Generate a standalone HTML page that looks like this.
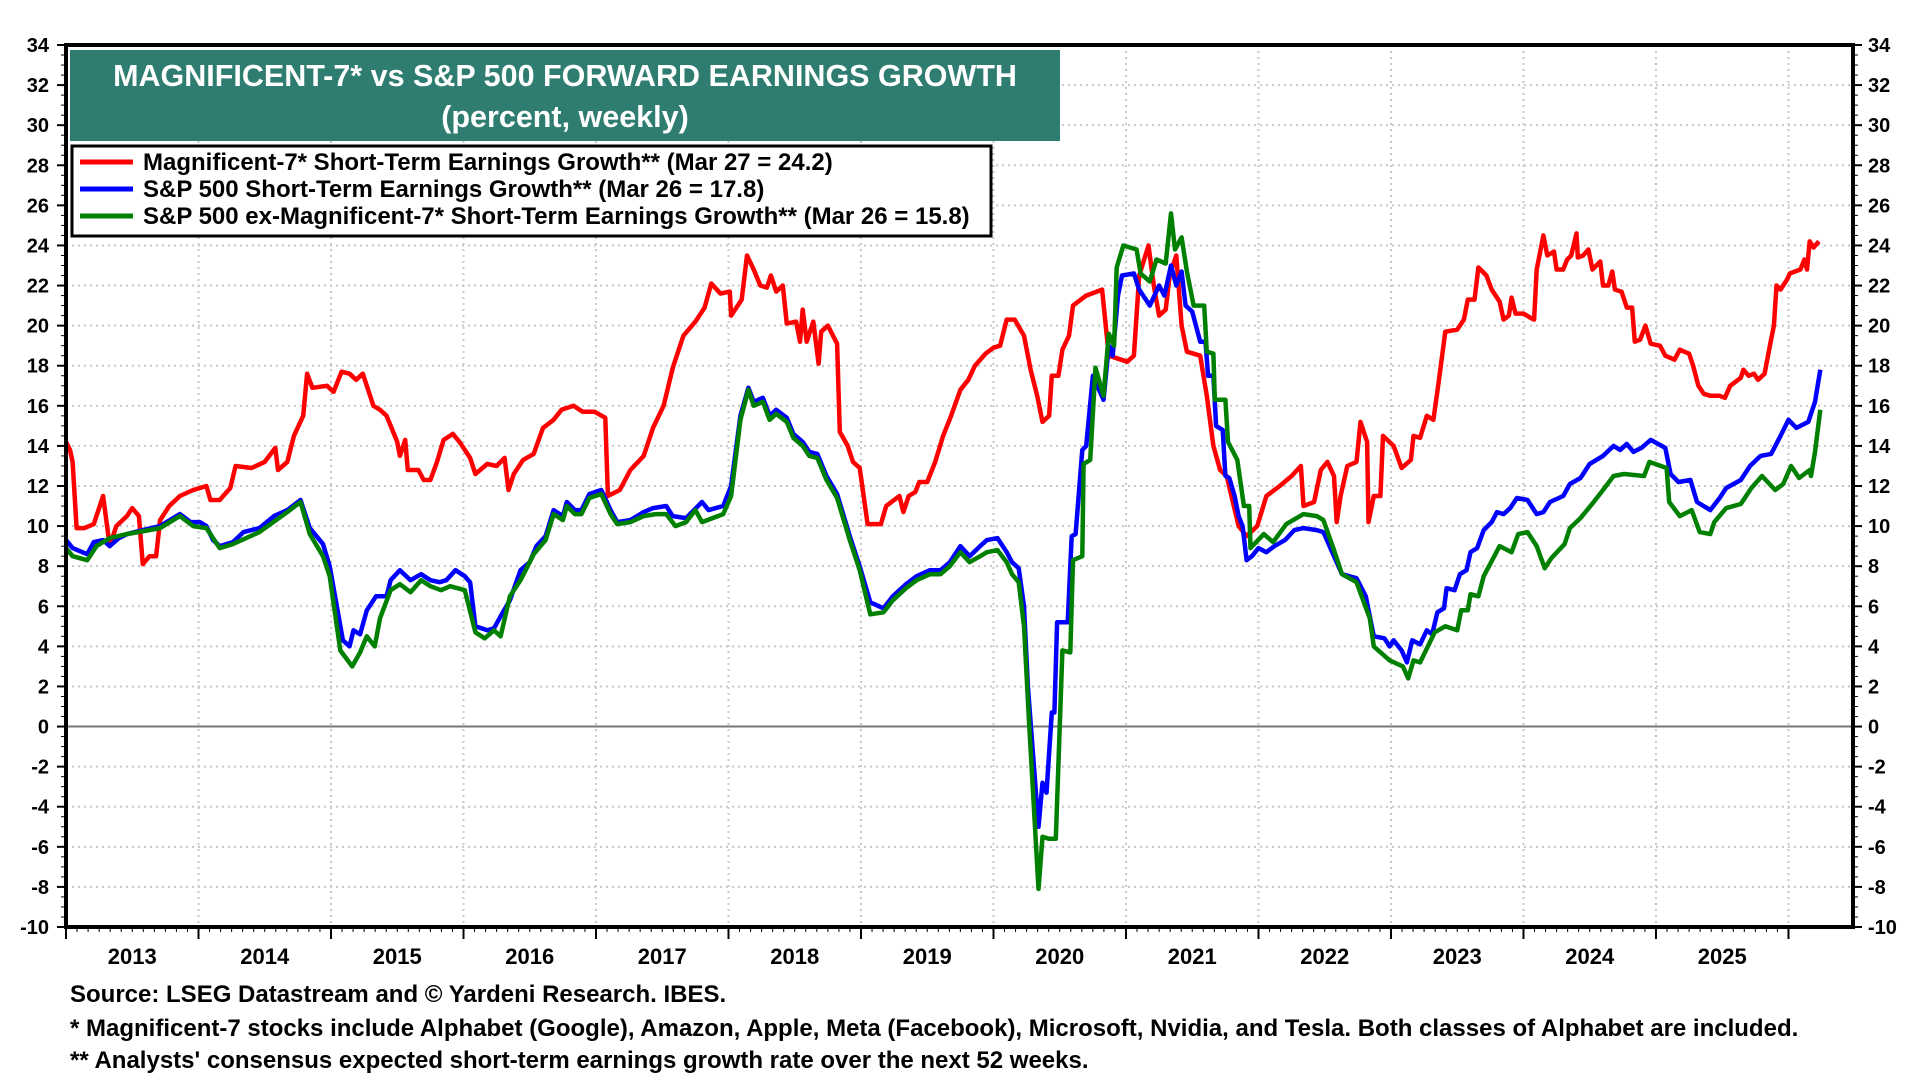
<!DOCTYPE html>
<html><head><meta charset="utf-8">
<style>
html,body{margin:0;padding:0;background:#fff;}
svg{display:block;font-family:"Liberation Sans",Arial,sans-serif;}
</style></head>
<body>
<svg id="chart" width="1920" height="1080" viewBox="0 0 1920 1080" xmlns="http://www.w3.org/2000/svg">
<g id="grid"></g>
<g id="series"></g>
<g id="axes"></g>
<g>
<rect x="70" y="50" width="990" height="91" fill="#2e7d70"/>
<text x="565" y="86" text-anchor="middle" font-size="30.5" font-weight="bold" fill="#fff">MAGNIFICENT-7* vs S&amp;P 500 FORWARD EARNINGS GROWTH</text>
<text x="565" y="127" text-anchor="middle" font-size="30.5" font-weight="bold" fill="#fff">(percent, weekly)</text>
</g>
<g>
<rect x="72" y="146" width="919" height="90" fill="#fff" stroke="#000" stroke-width="3"/>
<g><line x1="80" y1="162" x2="133" y2="162" stroke="#ff0000" stroke-width="5"/><text x="143" y="170" font-size="24" font-weight="bold">Magnificent-7* Short-Term Earnings Growth** (Mar 27 = 24.2)</text></g>
<g><line x1="80" y1="189" x2="133" y2="189" stroke="#0000ff" stroke-width="5"/><text x="143" y="197" font-size="24" font-weight="bold">S&amp;P 500 Short-Term Earnings Growth** (Mar 26 = 17.8)</text></g>
<g><line x1="80" y1="216" x2="133" y2="216" stroke="#008000" stroke-width="5"/><text x="143" y="224" font-size="24" font-weight="bold">S&amp;P 500 ex-Magnificent-7* Short-Term Earnings Growth** (Mar 26 = 15.8)</text></g>
</g>
<g font-size="24" font-weight="bold">
<text x="70" y="1002">Source: LSEG Datastream and © Yardeni Research. IBES.</text>
<text x="70" y="1036">* Magnificent-7 stocks include Alphabet (Google), Amazon, Apple, Meta (Facebook), Microsoft, Nvidia, and Tesla. Both classes of Alphabet are included.</text>
<text x="70" y="1068">** Analysts' consensus expected short-term earnings growth rate over the next 52 weeks.</text>
</g>
</svg>
<script>
const yTicks = [34,32,30,28,26,24,22,20,18,16,14,12,10,8,6,4,2,0,-2,-4,-6,-8,-10];
const yearLabels = ["2013","2014","2015","2016","2017","2018","2019","2020","2021","2022","2023","2024","2025"];
const redDates = [2013.00,2013.03,2013.05,2013.08,2013.14,2013.21,2013.28,2013.33,2013.38,2013.46,2013.5,2013.55,2013.58,2013.63,2013.68,2013.71,2013.78,2013.86,2013.96,2014.06,2014.09,2014.16,2014.24,2014.28,2014.4,2014.5,2014.58,2014.6,2014.67,2014.72,2014.79,2014.82,2014.86,2014.97,2015.02,2015.08,2015.14,2015.19,2015.24,2015.27,2015.32,2015.37,2015.42,2015.5,2015.52,2015.56,2015.58,2015.66,2015.7,2015.75,2015.8,2015.85,2015.92,2015.97,2016.05,2016.09,2016.18,2016.25,2016.31,2016.34,2016.38,2016.45,2016.53,2016.6,2016.68,2016.74,2016.83,2016.9,2016.99,2017.07,2017.09,2017.18,2017.26,2017.36,2017.43,2017.51,2017.58,2017.66,2017.75,2017.82,2017.87,2017.94,2018.01,2018.02,2018.1,2018.14,2018.19,2018.24,2018.29,2018.32,2018.36,2018.41,2018.44,2018.51,2018.54,2018.56,2018.59,2018.64,2018.68,2018.7,2018.75,2018.82,2018.84,2018.9,2018.94,2018.99,2019.05,2019.15,2019.19,2019.29,2019.32,2019.36,2019.41,2019.44,2019.5,2019.56,2019.62,2019.68,2019.75,2019.81,2019.86,2019.9,2019.94,2020.0,2020.05,2020.1,2020.16,2020.23,2020.28,2020.33,2020.37,2020.42,2020.44,2020.49,2020.52,2020.57,2020.6,2020.7,2020.82,2020.87,2021.01,2021.06,2021.1,2021.17,2021.21,2021.25,2021.3,2021.33,2021.38,2021.42,2021.46,2021.56,2021.61,2021.66,2021.71,2021.76,2021.85,2021.91,2021.99,2022.06,2022.16,2022.25,2022.32,2022.34,2022.42,2022.47,2022.52,2022.57,2022.59,2022.62,2022.67,2022.74,2022.77,2022.82,2022.83,2022.87,2022.92,2022.94,2023.02,2023.08,2023.15,2023.17,2023.22,2023.27,2023.32,2023.36,2023.41,2023.5,2023.55,2023.58,2023.63,2023.66,2023.72,2023.76,2023.82,2023.85,2023.89,2023.91,2023.94,2024.0,2024.05,2024.08,2024.1,2024.15,2024.18,2024.23,2024.25,2024.3,2024.33,2024.36,2024.4,2024.41,2024.45,2024.49,2024.52,2024.55,2024.58,2024.6,2024.64,2024.67,2024.69,2024.74,2024.78,2024.82,2024.84,2024.88,2024.92,2024.96,2025.03,2025.07,2025.14,2025.18,2025.25,2025.28,2025.32,2025.36,2025.41,2025.48,2025.52,2025.56,2025.64,2025.66,2025.7,2025.74,2025.77,2025.82,2025.86,2025.89,2025.91,2025.94,2025.99,2026.01,2026.09,2026.12,2026.14,2026.16,2026.19,2026.23];
const redValues = [14.2,13.8,13.2,9.9,9.9,10.1,11.5,9.0,10.0,10.5,10.9,10.5,8.1,8.5,8.5,10.3,11.0,11.5,11.8,12.0,11.3,11.3,11.9,13.0,12.9,13.2,13.9,12.8,13.2,14.5,15.5,17.6,16.9,17.0,16.7,17.7,17.6,17.3,17.6,17.0,16.0,15.8,15.5,14.2,13.5,14.3,12.8,12.8,12.3,12.3,13.2,14.3,14.6,14.2,13.4,12.6,13.1,13.0,13.4,11.8,12.6,13.3,13.6,14.9,15.3,15.8,16.0,15.7,15.7,15.4,11.5,11.8,12.8,13.5,14.9,16.0,17.9,19.5,20.2,20.9,22.1,21.6,21.7,20.5,21.3,23.5,22.8,22.0,21.9,22.5,21.7,22.0,20.1,20.2,19.2,20.8,19.2,20.2,18.1,19.7,20.0,19.1,14.7,14.0,13.2,12.9,10.1,10.1,11.0,11.5,10.7,11.5,11.7,12.2,12.2,13.2,14.5,15.5,16.8,17.3,18.0,18.3,18.6,18.9,19.0,20.3,20.3,19.5,17.8,16.5,15.2,15.5,17.5,17.5,18.8,19.5,21.0,21.5,21.8,18.5,18.2,18.5,22.5,24.0,22.0,20.5,20.8,22.5,23.5,20.0,18.7,18.5,16.5,14.0,12.8,12.5,10.0,9.5,10.0,11.5,12.0,12.5,13.0,11.0,11.2,12.8,13.2,12.5,10.2,11.5,13.0,13.2,15.2,14.2,10.2,11.5,11.5,14.5,14.0,12.9,13.3,14.5,14.4,15.5,15.3,17.2,19.7,19.8,20.3,21.3,21.3,22.9,22.5,21.8,21.2,20.3,20.5,21.4,20.6,20.6,20.4,20.3,22.8,24.5,23.5,23.7,22.8,22.8,23.3,23.5,24.6,23.4,23.5,23.8,22.8,23.0,23.2,22.0,22.0,22.7,21.8,21.7,20.9,20.9,19.2,19.3,20.0,19.1,19.0,18.5,18.3,18.8,18.6,18.0,17.0,16.6,16.5,16.5,16.4,17.0,17.4,17.8,17.5,17.6,17.3,17.6,19.0,20.0,22.0,21.8,22.3,22.6,22.8,23.3,22.8,24.2,23.9,24.2];
const blueDates = [2013.0,2013.05,2013.16,2013.21,2013.28,2013.33,2013.4,2013.46,2013.58,2013.71,2013.81,2013.86,2013.94,2014.01,2014.06,2014.11,2014.16,2014.26,2014.34,2014.46,2014.57,2014.67,2014.77,2014.84,2014.94,2014.99,2015.09,2015.14,2015.17,2015.22,2015.27,2015.34,2015.42,2015.45,2015.52,2015.6,2015.68,2015.75,2015.82,2015.87,2015.94,2016.01,2016.05,2016.09,2016.18,2016.23,2016.28,2016.35,2016.43,2016.5,2016.55,2016.62,2016.68,2016.75,2016.78,2016.84,2016.89,2016.95,2017.04,2017.11,2017.16,2017.26,2017.36,2017.43,2017.53,2017.58,2017.68,2017.8,2017.85,2017.96,2018.02,2018.09,2018.15,2018.19,2018.26,2018.31,2018.36,2018.44,2018.49,2018.56,2018.61,2018.67,2018.74,2018.82,2018.92,2018.99,2019.07,2019.17,2019.24,2019.34,2019.42,2019.52,2019.6,2019.67,2019.75,2019.82,2019.9,2019.95,2020.03,2020.1,2020.14,2020.19,2020.23,2020.26,2020.34,2020.37,2020.4,2020.44,2020.46,2020.48,2020.56,2020.59,2020.62,2020.67,2020.7,2020.75,2020.83,2020.87,2020.9,2020.94,2020.97,2021.06,2021.1,2021.18,2021.25,2021.29,2021.34,2021.38,2021.42,2021.45,2021.5,2021.56,2021.6,2021.62,2021.66,2021.68,2021.73,2021.75,2021.78,2021.82,2021.85,2021.88,2021.91,2021.95,2022.0,2022.06,2022.12,2022.2,2022.27,2022.34,2022.44,2022.49,2022.57,2022.63,2022.74,2022.81,2022.87,2022.95,2022.99,2023.02,2023.08,2023.12,2023.16,2023.22,2023.27,2023.31,2023.35,2023.4,2023.42,2023.48,2023.52,2023.57,2023.6,2023.65,2023.7,2023.76,2023.8,2023.85,2023.9,2023.95,2024.03,2024.1,2024.15,2024.2,2024.3,2024.35,2024.43,2024.5,2024.6,2024.68,2024.73,2024.78,2024.83,2024.89,2024.96,2025.07,2025.11,2025.17,2025.26,2025.31,2025.41,2025.48,2025.53,2025.64,2025.71,2025.79,2025.87,2025.94,2026.0,2026.06,2026.15,2026.2,2026.24];
const blueValues = [9.3,8.9,8.6,9.2,9.3,9.0,9.4,9.6,9.8,10.0,10.4,10.6,10.2,10.2,10.0,9.3,9.0,9.2,9.7,9.9,10.5,10.8,11.3,9.9,9.1,8.0,4.3,4.0,4.8,4.6,5.8,6.5,6.5,7.3,7.8,7.3,7.6,7.3,7.2,7.3,7.8,7.5,7.2,5.0,4.8,4.9,5.5,6.3,7.8,8.2,9.0,9.5,10.8,10.5,11.2,10.8,10.8,11.6,11.8,10.8,10.2,10.3,10.7,10.9,11.0,10.5,10.4,11.2,10.8,11.0,12.0,15.5,16.9,16.2,16.4,15.5,15.8,15.4,14.6,14.2,13.7,13.6,12.5,11.6,9.4,8.0,6.2,5.9,6.5,7.1,7.5,7.8,7.8,8.2,9.0,8.5,9.0,9.3,9.4,8.7,8.2,7.9,6.0,2.0,-5.0,-2.8,-3.3,0.7,0.7,5.2,5.2,9.5,9.6,13.8,14.0,17.5,16.3,19.0,18.5,21.5,22.5,22.6,21.8,21.0,22.0,21.5,23.0,22.0,22.7,21.0,20.7,19.2,19.2,17.5,17.5,15.0,14.8,12.5,12.4,11.5,10.5,10.0,8.3,8.5,8.9,8.7,9.0,9.3,9.8,9.9,9.8,9.7,8.5,7.6,7.4,6.5,4.5,4.4,4.0,4.3,3.8,3.2,4.3,4.1,4.8,4.6,5.7,5.9,6.9,6.8,7.6,7.8,8.7,8.9,9.8,10.2,10.7,10.6,10.9,11.4,11.3,10.6,10.7,11.2,11.5,12.1,12.4,13.1,13.5,14.0,13.8,14.1,13.7,13.9,14.3,13.9,12.6,12.2,12.3,11.2,10.8,11.4,11.9,12.3,13.0,13.5,13.6,14.5,15.3,14.9,15.2,16.2,17.8];
const greenDates = [2013.0,2013.05,2013.16,2013.23,2013.33,2013.46,2013.71,2013.86,2013.96,2014.06,2014.16,2014.26,2014.46,2014.67,2014.77,2014.84,2014.94,2014.99,2015.07,2015.16,2015.22,2015.27,2015.33,2015.37,2015.45,2015.52,2015.6,2015.68,2015.75,2015.83,2015.9,2016.01,2016.09,2016.16,2016.23,2016.28,2016.35,2016.43,2016.53,2016.62,2016.68,2016.75,2016.78,2016.84,2016.89,2016.95,2017.04,2017.11,2017.16,2017.26,2017.36,2017.45,2017.53,2017.6,2017.68,2017.75,2017.8,2017.96,2018.02,2018.09,2018.15,2018.19,2018.26,2018.31,2018.36,2018.44,2018.49,2018.56,2018.61,2018.67,2018.74,2018.82,2018.92,2018.99,2019.07,2019.17,2019.24,2019.34,2019.42,2019.52,2019.6,2019.67,2019.75,2019.82,2019.9,2019.95,2020.03,2020.1,2020.14,2020.19,2020.23,2020.27,2020.34,2020.37,2020.42,2020.47,2020.52,2020.58,2020.6,2020.67,2020.68,2020.73,2020.77,2020.83,2020.87,2020.91,2020.93,2020.98,2021.08,2021.11,2021.18,2021.23,2021.3,2021.34,2021.37,2021.42,2021.46,2021.51,2021.59,2021.61,2021.66,2021.67,2021.75,2021.77,2021.84,2021.89,2021.93,2021.94,2022.04,2022.11,2022.21,2022.34,2022.44,2022.49,2022.57,2022.63,2022.74,2022.84,2022.87,2022.99,2023.09,2023.13,2023.17,2023.22,2023.33,2023.41,2023.5,2023.53,2023.58,2023.6,2023.66,2023.7,2023.78,2023.82,2023.91,2023.96,2024.03,2024.1,2024.16,2024.21,2024.31,2024.35,2024.43,2024.53,2024.6,2024.68,2024.76,2024.91,2024.95,2025.08,2025.1,2025.18,2025.27,2025.33,2025.41,2025.44,2025.53,2025.64,2025.72,2025.8,2025.9,2025.96,2026.02,2026.08,2026.16,2026.17,2026.2,2026.24];
const greenValues = [8.9,8.5,8.3,9.0,9.4,9.6,9.9,10.5,10.0,9.9,8.9,9.1,9.7,10.7,11.2,9.6,8.5,7.5,3.8,3.0,3.7,4.5,4.0,5.4,6.8,7.1,6.7,7.3,7.0,6.8,7.0,6.8,4.7,4.4,4.8,4.5,6.5,7.3,8.6,9.3,10.6,10.3,11.0,10.6,10.6,11.4,11.6,10.6,10.1,10.2,10.5,10.6,10.6,10.0,10.2,10.8,10.2,10.6,11.5,15.3,16.8,16.0,16.2,15.3,15.6,15.2,14.4,14.0,13.5,13.4,12.3,11.4,9.2,7.8,5.6,5.7,6.3,6.9,7.3,7.6,7.6,8.0,8.7,8.2,8.5,8.7,8.8,8.2,7.6,7.2,5.0,0.0,-8.1,-5.5,-5.6,-5.6,3.8,3.7,8.3,8.5,13.1,13.3,17.9,16.5,19.6,19.0,22.9,24.0,23.8,22.6,22.2,23.3,23.1,25.6,23.8,24.4,22.7,21.0,21.0,18.7,18.6,16.3,16.3,14.2,13.3,11.0,11.0,8.9,9.6,9.2,10.1,10.6,10.5,10.3,8.8,7.6,7.2,5.4,4.0,3.3,3.0,2.4,3.3,3.2,4.7,5.0,4.8,5.8,5.8,6.6,6.5,7.5,8.5,9.0,8.7,9.6,9.7,9.0,7.9,8.4,9.1,9.9,10.4,11.2,11.8,12.5,12.6,12.5,13.2,12.9,11.2,10.5,10.8,9.7,9.6,10.2,10.9,11.1,11.9,12.5,11.8,12.1,13.0,12.4,12.8,12.5,13.7,15.8];

const NS = "http://www.w3.org/2000/svg";
const L = 66, R = 1853, T = 45, B = 927, X0 = 2013, X1 = 2026.487, YMAX = 34, YMIN = -10;
function xScale(t){ return L + (t - X0) / (X1 - X0) * (R - L); }
function yScale(v){ return T + (YMAX - v) / (YMAX - YMIN) * (B - T); }
function mk(tag, attrs, parent){ const e = document.createElementNS(NS, tag); for (const k in attrs) e.setAttribute(k, attrs[k]); parent.appendChild(e); return e; }

const grid = document.getElementById('grid');
const axes = document.getElementById('axes');
const series = document.getElementById('series');

yTicks.forEach(v => {
  const y = yScale(v);
  if (v !== YMAX && v !== YMIN && v !== 0) {
    const g = mk('line', {x1:L, x2:R, y1:y, y2:y, stroke:'#c8c8c8', 'stroke-width':2, 'stroke-dasharray':'2,4'}, grid);
    
    
  }
  const lt = mk('text', {x:49, y:y+7, 'text-anchor':'end', 'font-size':20, 'font-weight':'bold'}, axes);
  lt.textContent = v;
  
  
  const rt = mk('text', {x:1868, y:y+7, 'text-anchor':'start', 'font-size':20, 'font-weight':'bold'}, axes);
  rt.textContent = v;
  
  
  [[L-9, L], [R, R+9]].forEach(p => { mk('line', {x1:p[0], x2:p[1], y1:y, y2:y, stroke:'#000', 'stroke-width':2}, axes); });
});
for (let v = YMIN; v <= YMAX; v += 0.5) {
  const y = yScale(v);
  mk('line', {x1:L-5, x2:L, y1:y, y2:y, stroke:'#000', 'stroke-width':1}, axes);
  mk('line', {x1:R, x2:R+5, y1:y, y2:y, stroke:'#000', 'stroke-width':1}, axes);
}
yearLabels.forEach((lab, i) => {
  const yr = X0 + i;
  const x = xScale(yr);
  if (i > 0) {
    const g = mk('line', {x1:x, x2:x, y1:T, y2:B, stroke:'#c8c8c8', 'stroke-width':2, 'stroke-dasharray':'2,4'}, grid);
    
    
  }
  mk('line', {x1:x, x2:x, y1:B, y2:B+12, stroke:'#000', 'stroke-width':2}, axes);
  for (let q = 1; q < 12; q++) { const xm = xScale(yr + q/12); mk('line', {x1:xm, x2:xm, y1:B, y2:B+5, stroke:'#000', 'stroke-width':1}, axes); }
  const t = mk('text', {x:xScale(yr + 0.5), y:964, 'text-anchor':'middle', 'font-size':22, 'font-weight':'bold'}, axes);
  t.textContent = lab;
  
  
});
const lastX = xScale(X0 + yearLabels.length);
mk('line', {x1:lastX, x2:lastX, y1:T, y2:B, stroke:'#c8c8c8', 'stroke-width':2, 'stroke-dasharray':'2,4'}, grid);
mk('line', {x1:lastX, x2:lastX, y1:B, y2:B+12, stroke:'#000', 'stroke-width':2}, axes);
const zl = mk('line', {x1:L, x2:R, y1:yScale(0), y2:yScale(0), stroke:'#777', 'stroke-width':2}, grid);


const fr = mk('rect', {x:L, y:T, width:R-L, height:B-T, fill:'none', stroke:'#000', 'stroke-width':4}, axes);



function drawSeries(dates, vals, color, name){
  const d = dates.map((t, i) => (i ? 'L' : 'M') + xScale(t).toFixed(1) + ',' + yScale(vals[i]).toFixed(1)).join(' ');
  const p = mk('path', {d:d, fill:'none', stroke:color, 'stroke-width':4.5, 'stroke-linejoin':'round'}, series);
  
  
}
drawSeries(redDates, redValues, '#ff0000', 'mag7-line');
drawSeries(blueDates, blueValues, '#0000ff', 'sp500-line');
drawSeries(greenDates, greenValues, '#008000', 'sp500-ex-mag7-line');
</script>
</body></html>
